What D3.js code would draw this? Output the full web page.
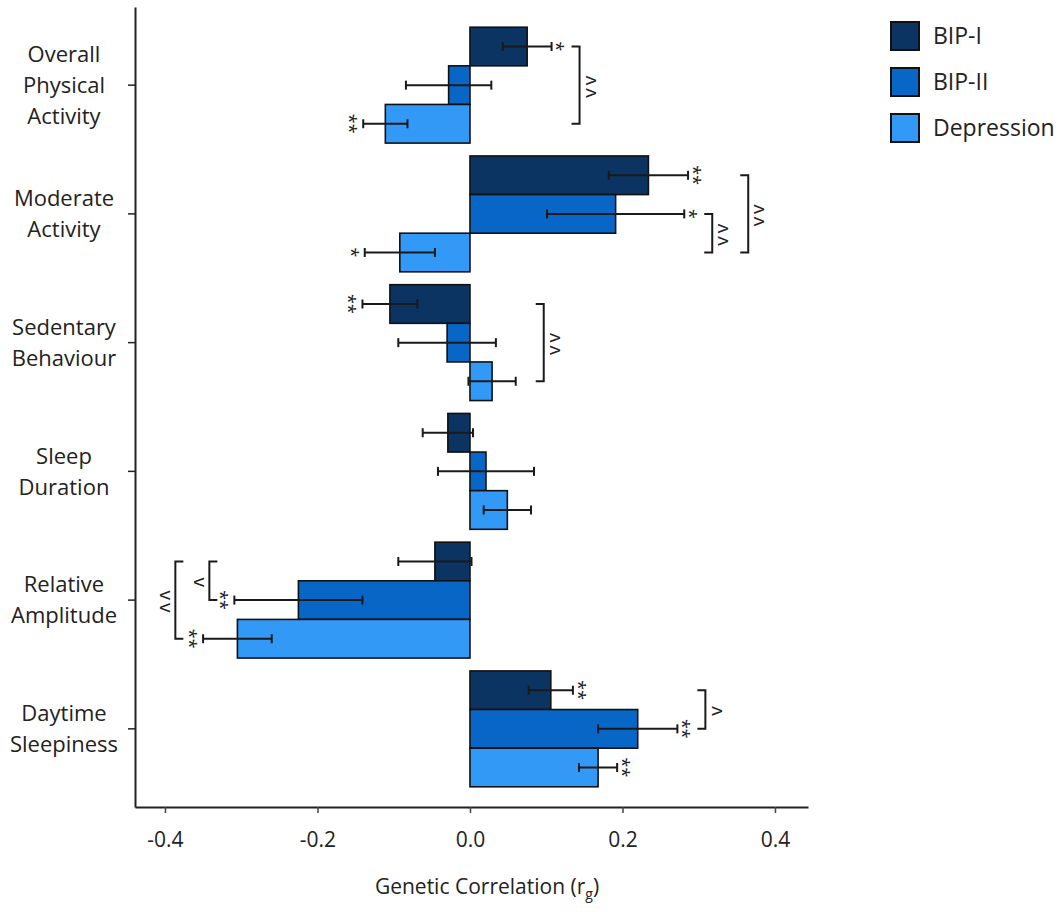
<!DOCTYPE html>
<html>
<head>
<meta charset="utf-8">
<script src="https://cdn.jsdelivr.net/npm/d3@7"></script>
<style>
	body { margin: 0; background: #fff; }
	text { font-family: "Open Sans", sans-serif; fill: #222; }
</style>
</head>
<body>
<div id="chart"></div>
<script>
// traits, top to bottom
const categories = ["Overall Physical Activity", "Moderate Activity", "Sedentary Behaviour",
	"Sleep Duration", "Relative Amplitude", "Daytime Sleepiness"];
const series = ["BIP-I", "BIP-II", "Depression"];
const colors = ["#0b3463", "#0866c6", "#3399f7"];

// genetic correlations (rg) and half-width of error bars
const bip1 = [0.075, 0.234, -0.105, -0.029, -0.046, 0.106];
const bip2 = [-0.028, 0.191, -0.030, 0.021, -0.225, 0.220];
const dep = [-0.111, -0.092, 0.029, 0.049, -0.305, 0.168];
const bip1Err = [0.032, 0.052, 0.036, 0.033, 0.048, 0.029];
const bip2Err = [0.056, 0.090, 0.064, 0.063, 0.084, 0.052];
const depErr = [0.029, 0.046, 0.031, 0.031, 0.045, 0.025];

// significance stars
const bip1Stars = ["*", "**", "**", "", "", "**"];
const bip2Stars = ["", "*", "", "", "**", "**"];
const depStars = ["**", "*", "", "", "**", "**"];

// group differences: category index, series from/to, label (set sideways), nesting level
const brackets = [
	{ cat: 0, from: 0, to: 2, label: "vv", nest: 0 },
	{ cat: 1, from: 1, to: 2, label: "vv", nest: 0 },
	{ cat: 1, from: 0, to: 2, label: "vv", nest: 1 },
	{ cat: 2, from: 0, to: 2, label: "vv", nest: 0 },
	{ cat: 4, from: 0, to: 1, label: "ʌ", nest: 0 },
	{ cat: 4, from: 0, to: 2, label: "ʌʌ", nest: 1 },
	{ cat: 5, from: 0, to: 1, label: "v", nest: 0 }
];

const xTicks = [-0.4, -0.2, 0, 0.2, 0.4];

const width = 1062;
const height = 912;
const margin = ({ top: 7, right: 254, bottom: 105, left: 135 });

const values = [bip1, bip2, dep];
const errs = [bip1Err, bip2Err, depErr];
const stars = [bip1Stars, bip2Stars, depStars];

const data = [];
categories.forEach((c, i) => series.forEach((s, j) => data.push({
	cat: c, ci: i, s: s, si: j, v: values[j][i], e: errs[j][i], star: stars[j][i]
})));

const x = d3.scaleLinear()
	.domain([-0.4393, 0.4433])
	.range([margin.left, width - margin.right]);

const y = d3.scaleBand()
	.domain(categories)
	.range([margin.top, height - margin.bottom])
	.paddingInner(0.1)
	.paddingOuter(0.157);

const yi = d3.scaleBand()
	.domain(series)
	.range([0, y.bandwidth()]);

const color = d3.scaleOrdinal().domain(series).range(colors);

const cy = d => y(d.cat) + yi(d.s) + yi.bandwidth() / 2;

const svg = d3.select("#chart")
	.append("svg")
	.attr("width", width)
	.attr("height", height)
	.attr("viewBox", [0, 0, width, height]);

const xAxis = g => g
	.attr("transform", `translate(0,${height - margin.bottom})`)
	.call(d3.axisBottom(x).tickValues(xTicks).tickFormat(d => d.toFixed(1))
		.tickSize(6).tickSizeOuter(0).tickPadding(19))
	.call(g => g.select(".domain").attr("stroke", "#222").attr("stroke-width", 2))
	.call(g => g.selectAll(".tick line").attr("stroke", "#444").attr("stroke-width", 1.5))
	.call(g => g.selectAll(".tick text").attr("font-size", 21)
		.attr("font-family", "Open Sans, sans-serif").attr("fill", "#222"));

const yAxis = g => g
	.attr("transform", `translate(${margin.left},0)`)
	.call(d3.axisLeft(y).tickSize(7).tickSizeOuter(0).tickFormat(""))
	.call(g => g.select(".domain").attr("stroke", "#222").attr("stroke-width", 2))
	.call(g => g.selectAll(".tick line").attr("stroke", "#222").attr("stroke-width", 1.5));

svg.append("g").call(xAxis);
svg.append("g").call(yAxis);

// category labels, one word per line
svg.append("g")
	.selectAll("text")
	.data(categories)
	.join("text")
	.attr("text-anchor", "middle")
	.attr("font-size", 22)
	.each(function (c) {
		const words = c.split(" ");
		const mid = y(c) + y.bandwidth() / 2;
		d3.select(this).selectAll("tspan")
			.data(words)
			.join("tspan")
			.attr("x", 64)
			.attr("y", (w, i) => mid + (i - (words.length - 1) / 2) * 31)
			.attr("dy", "0.35em")
			.text(w => w);
	});

// bars
svg.append("g")
	.attr("stroke", "#111")
	.attr("stroke-width", 1.6)
	.selectAll("rect")
	.data(data)
	.join("rect")
	.attr("x", d => x(Math.min(0, d.v)))
	.attr("width", d => Math.abs(x(d.v) - x(0)))
	.attr("y", d => y(d.cat) + yi(d.s))
	.attr("height", yi.bandwidth())
	.attr("fill", d => color(d.s));

// error bars
const eb = svg.append("g")
	.attr("stroke", "#1a1a1a")
	.attr("stroke-width", 2)
	.selectAll("g")
	.data(data)
	.join("g");

eb.append("line")
	.attr("x1", d => x(d.v - d.e))
	.attr("x2", d => x(d.v + d.e))
	.attr("y1", cy)
	.attr("y2", cy);

eb.append("line")
	.attr("x1", d => x(d.v - d.e))
	.attr("x2", d => x(d.v - d.e))
	.attr("y1", d => cy(d) - 4.5)
	.attr("y2", d => cy(d) + 4.5);

eb.append("line")
	.attr("x1", d => x(d.v + d.e))
	.attr("x2", d => x(d.v + d.e))
	.attr("y1", d => cy(d) - 4.5)
	.attr("y2", d => cy(d) + 4.5);

// stars, set sideways so they stack vertically
svg.append("g")
	.selectAll("text")
	.data(data.filter(d => d.star))
	.join("text")
	.attr("transform", d => {
		const sx = d.v >= 0 ? x(d.v + d.e) + 9 : x(d.v - d.e) - 10;
		return `translate(${sx},${cy(d)}) rotate(90)`;
	})
	.attr("text-anchor", "middle")
	.attr("dy", "0.56em")
	.attr("font-size", 18)
	.text(d => d.star);

// brackets
const brG = svg.append("g");
const placed = {};
brackets.forEach(b => {
	const left = b.label[0] !== "v";
	const pts = data.filter(d => d.ci === b.cat && d.si >= b.from && d.si <= b.to);
	let bx;
	if (left) {
		bx = d3.min(pts, d => x(d.v - d.e)) - 25;
		if (b.nest && placed[b.cat] !== undefined) bx = Math.min(bx, placed[b.cat] - 34);
	} else {
		bx = d3.max(pts, d => x(d.v + d.e)) + 28;
		if (b.nest && placed[b.cat] !== undefined) bx = Math.max(bx, placed[b.cat] + 36);
	}
	placed[b.cat] = bx;
	const y1 = cy(pts.find(d => d.si === b.from));
	const y2 = cy(pts.find(d => d.si === b.to));
	const t = left ? 8 : -8;
	brG.append("path")
		.attr("fill", "none")
		.attr("stroke", "#1a1a1a")
		.attr("stroke-width", 2)
		.attr("d", `M${bx + t},${y1}H${bx}V${y2}H${bx + t}`);
	brG.append("text")
		.attr("transform", `translate(${left ? bx - 10 : bx + 11},${(y1 + y2) / 2}) rotate(-90)`)
		.attr("text-anchor", "middle")
		.attr("dy", "0.27em")
		.attr("font-size", 19)
		.attr("letter-spacing", 3)
		.text(b.label);
});

// legend
const legend = svg.append("g")
	.selectAll("g")
	.data(series)
	.join("g")
	.attr("transform", (d, i) => `translate(891,${22 + i * 46})`);

legend.append("rect")
	.attr("width", 28)
	.attr("height", 28)
	.attr("fill", d => color(d))
	.attr("stroke", "#111")
	.attr("stroke-width", 2);

legend.append("text")
	.attr("x", 42)
	.attr("y", 14)
	.attr("dy", "0.35em")
	.attr("font-size", 23)
	.text(d => d);

// axis title
const title = svg.append("text")
	.attr("x", 487)
	.attr("y", 894)
	.attr("text-anchor", "middle")
	.attr("font-size", 21);
title.append("tspan").text("Genetic Correlation (r");
title.append("tspan").attr("font-size", 14).attr("dy", 5).text("g");
title.append("tspan").attr("dy", -5).text(")");
</script>
</body>
</html>
